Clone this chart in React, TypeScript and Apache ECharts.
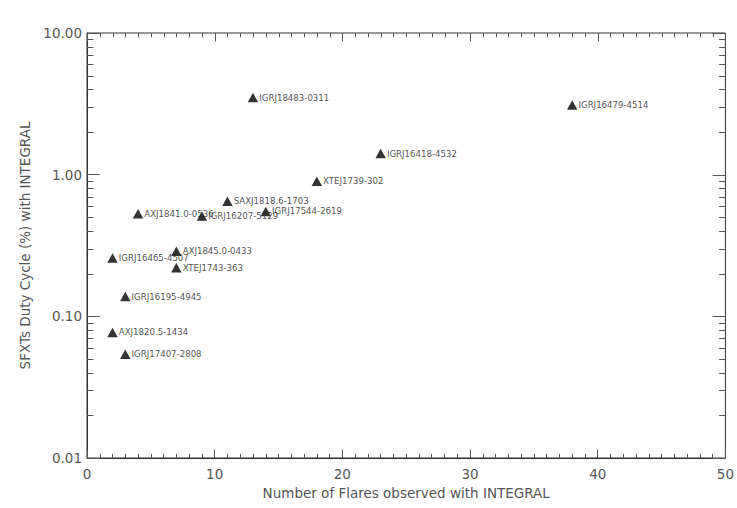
import React, { useEffect, useRef } from "react";
import * as echarts from "echarts";

const sourceNames = [
  "IGRJ18483-0311",
  "IGRJ16479-4514",
  "IGRJ16418-4532",
  "XTEJ1739-302",
  "SAXJ1818.6-1703",
  "IGRJ17544-2619",
  "IGRJ16207-5129",
  "AXJ1841.0-0536",
  "IGRJ16465-4507",
  "AXJ1845.0-0433",
  "XTEJ1743-363",
  "IGRJ16195-4945",
  "AXJ1820.5-1434",
  "IGRJ17407-2808",
];
const flares = [13, 38, 23, 18, 11, 14, 9, 4, 2, 7, 7, 3, 2, 3];
const dutyCycle = [3.5, 3.1, 1.41, 0.9, 0.65, 0.55, 0.51, 0.53, 0.258, 0.288, 0.22, 0.138, 0.077, 0.054];

const xTicks = { min: 0, max: 50, interval: 10 };
const yRange = { min: 0.01, max: 10 };
const xMajorTicks = [0, 10, 20, 30, 40, 50];
const yMajorTicks = [0.01, 0.1, 1, 10];
const yMinorTicks = [
  0.02, 0.03, 0.04, 0.05, 0.06, 0.07, 0.08, 0.09,
  0.2, 0.3, 0.4, 0.5, 0.6, 0.7, 0.8, 0.9,
  2, 3, 4, 5, 6, 7, 8, 9,
];
const xMinorTicks: number[] = [];
for (let i = xTicks.min + 1; i < xTicks.max; i++) if (i % xTicks.interval !== 0) xMinorTicks.push(i);

const xTitle = "Number of Flares observed with INTEGRAL";
const yTitle = "SFXTs Duty Cycle (%) with INTEGRAL";

const FONT = "DejaVu Sans";
const AXIS_COLOR = "#333";
const TICK_COLOR = "#555";
const LABEL_COLOR = "#555";
const X_MAJOR_LEN = 8.5;
const X_MINOR_LEN = 4.25;
const Y_MAJOR_LEN = 12.8;
const Y_MINOR_LEN = 6.4;

export default function App() {
  const ref = useRef<HTMLDivElement>(null);

  useEffect(() => {
    if (!ref.current) return;
    const chart = echarts.init(ref.current, null, { renderer: "svg" });
    const tickStyle = { stroke: TICK_COLOR, lineWidth: 1 };

    chart.setOption({
      animation: false,
      grid: {
        left: 87,
        top: 33,
        right: 11,
        bottom: 50,
        show: true,
        borderColor: AXIS_COLOR,
        borderWidth: 1,
        backgroundColor: "transparent",
      },
      xAxis: {
        type: "value",
        min: xTicks.min,
        max: xTicks.max,
        interval: xTicks.interval,
        axisLine: { show: true, lineStyle: { color: AXIS_COLOR, width: 1 } },
        axisTick: { show: true, inside: true, length: X_MAJOR_LEN, lineStyle: { color: TICK_COLOR, width: 1 } },
        minorTick: { show: true, splitNumber: 10, length: X_MINOR_LEN, lineStyle: { color: TICK_COLOR, width: 1 } },
        splitLine: { show: false },
        axisLabel: { margin: 9, fontFamily: FONT, fontSize: 13.5, color: LABEL_COLOR },
        name: xTitle,
        nameLocation: "middle",
        nameGap: 28,
        nameTextStyle: { fontFamily: FONT, fontSize: 13.5, color: LABEL_COLOR },
      },
      yAxis: {
        type: "log",
        logBase: 10,
        min: yRange.min,
        max: yRange.max,
        axisLine: { show: true, lineStyle: { color: AXIS_COLOR, width: 1 } },
        axisTick: { show: true, inside: true, length: Y_MAJOR_LEN, lineStyle: { color: TICK_COLOR, width: 1 } },
        splitLine: { show: false },
        axisLabel: {
          margin: 5,
          fontFamily: FONT,
          fontSize: 13.5,
          color: LABEL_COLOR,
          formatter: (v: number) => Number(v).toFixed(2),
        },
        name: yTitle,
        nameLocation: "middle",
        nameGap: 46,
        nameTextStyle: { fontFamily: FONT, fontSize: 13.5, color: LABEL_COLOR },
      },
      series: [
        {
          type: "custom",
          silent: true,
          data: yMinorTicks.map((v) => [xTicks.min, v]),
          renderItem: (params: any, api: any) => {
            const pt = api.coord([api.value(0), api.value(1)]);
            const cs = params.coordSys;
            const y = Math.round(pt[1]) + 0.5;
            return {
              type: "group",
              children: [
                { type: "line", shape: { x1: cs.x, y1: y, x2: cs.x + Y_MINOR_LEN, y2: y }, style: tickStyle },
                { type: "line", shape: { x1: cs.x + cs.width, y1: y, x2: cs.x + cs.width - Y_MINOR_LEN, y2: y }, style: tickStyle },
              ],
            };
          },
        },
        {
          type: "custom",
          silent: true,
          data: yMajorTicks.map((v) => [xTicks.min, v]),
          renderItem: (params: any, api: any) => {
            const pt = api.coord([api.value(0), api.value(1)]);
            const cs = params.coordSys;
            const y = Math.round(pt[1]) + 0.5;
            return {
              type: "line",
              shape: { x1: cs.x + cs.width, y1: y, x2: cs.x + cs.width - Y_MAJOR_LEN, y2: y },
              style: tickStyle,
            };
          },
        },
        {
          type: "custom",
          silent: true,
          data: [
            ...xMajorTicks.map((v) => [v, yRange.max, 1]),
            ...xMinorTicks.map((v) => [v, yRange.max, 0]),
          ],
          renderItem: (params: any, api: any) => {
            const pt = api.coord([api.value(0), api.value(1)]);
            const cs = params.coordSys;
            const x = Math.round(pt[0]) + 0.5;
            const len = api.value(2) ? X_MAJOR_LEN : X_MINOR_LEN;
            return {
              type: "line",
              shape: { x1: x, y1: cs.y, x2: x, y2: cs.y + len },
              style: tickStyle,
            };
          },
        },
        {
          type: "scatter",
          symbol: "triangle",
          symbolSize: [10.5, 9.5],
          itemStyle: { color: "#000" },
          data: flares.map((x, i) => [x, dutyCycle[i], sourceNames[i]]),
          label: {
            show: true,
            position: "right",
            distance: 1,
            formatter: (p: any) => p.data[2],
            fontFamily: FONT,
            fontSize: 8.6,
            color: "#222",
          },
        },
      ],
    });

    return () => chart.dispose();
  }, []);

  return (
    <div
      ref={ref}
      style={{ position: "absolute", left: 0, top: 0, width: 737, height: 508 }}
    />
  );
}
